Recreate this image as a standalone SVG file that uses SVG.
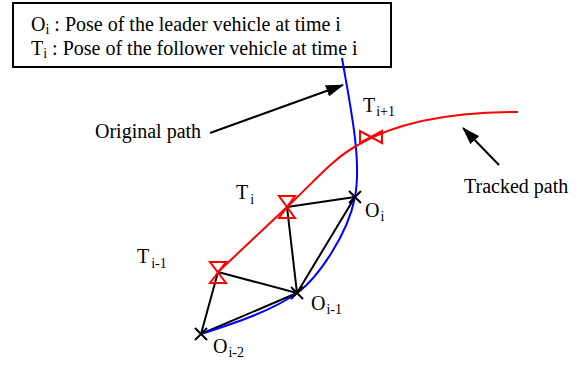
<svg xmlns="http://www.w3.org/2000/svg" width="577" height="367" viewBox="0 0 577 367">
<style>
text{font-family:"Liberation Serif","Times New Roman",serif;font-size:20px;fill:#000}
.sub{font-size:14px}
.blk{stroke:#000;stroke-width:2;fill:none}
.hg{stroke:#f00;stroke-width:2;fill:none;stroke-linejoin:miter}
.x{stroke:#000;stroke-width:2;fill:none}
</style>
<defs>
<marker id="ah" viewBox="0 0 18 12" refX="17" refY="6" markerWidth="18" markerHeight="12" markerUnits="userSpaceOnUse" orient="auto">
<path d="M0,0 L18,6 L0,12 z" fill="#000"/>
</marker>
</defs>
<rect width="577" height="367" fill="#fff"/>
<g id="legend">
<rect x="13" y="3" width="378" height="64" fill="#fff" stroke="#000" stroke-width="2"/>
<text x="31" y="31">O<tspan class="sub" dy="3">i</tspan><tspan dy="-3"> : Pose of the leader vehicle at time i</tspan></text>
<text x="31" y="55">T<tspan class="sub" dy="3">i</tspan><tspan dy="-3"> : Pose of the follower vehicle at time i</tspan></text>
</g>
<g id="connectors">
<path class="blk" d="M218,272 L201,334 M218,272 L297,293 M287,207 L297,293 M287,207 L355,197 M297,293 L355,197 M201,334 L297,293"/>
<path d="M342,58 C350,105 362,160 355,197 C348,234 318,278 297,293 C272,311 232,324 201,334" stroke="#00f" stroke-width="2" fill="none"/>
<path d="M218,272 L287,207 C310,186 333,158 358,145 C390,126 440,112 518,112" stroke="#f00" stroke-width="2" fill="none"/>
<line x1="210" y1="133" x2="343" y2="85" stroke="#000" stroke-width="2" marker-end="url(#ah)"/>
<line x1="499" y1="165" x2="463" y2="128" stroke="#000" stroke-width="2" marker-end="url(#ah)"/>
</g>
<g id="T_im1"><path class="hg" d="M210,262 L226,262 L210,283 L226,283 z"/></g>
<g id="T_i"><path class="hg" d="M279,196 L295,196 L279,218 L295,218 z"/></g>
<g id="T_ip1"><path class="hg" d="M360,131 L360,143 L382,131 L382,143 z"/></g>
<g id="O_i"><path class="x" d="M349,191 L361,203 M361,191 L349,203"/></g>
<g id="O_im1"><path class="x" d="M291,287 L303,299 M303,287 L291,299"/></g>
<g id="O_im2"><path class="x" d="M195,328 L207,340 M207,328 L195,340"/></g>
<g id="labels">
<text x="236" y="199">T<tspan class="sub" dx="2" dy="5">i</tspan></text>
<text x="137" y="263">T<tspan class="sub" dx="2" dy="5">i-1</tspan></text>
<text x="363" y="112">T<tspan class="sub" dx="1" dy="4">i+1</tspan></text>
<text x="365" y="217">O<tspan class="sub" dx="1" dy="4">i</tspan></text>
<text x="311" y="310">O<tspan class="sub" dx="1" dy="4">i-1</tspan></text>
<text x="213" y="353">O<tspan class="sub" dx="1" dy="4">i-2</tspan></text>
<text x="95" y="138">Original path</text>
<text x="464" y="193">Tracked path</text>
</g>
</svg>
